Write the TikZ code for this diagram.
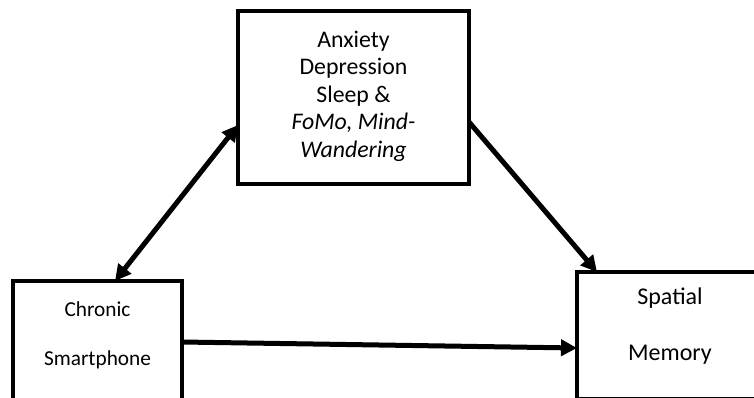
\documentclass[tikz,border=0pt]{standalone}
\usepackage{fontspec}
\setmainfont{Carlito}
\usetikzlibrary{arrows.meta,calc}
\begin{document}
\begin{tikzpicture}[x=1pt,y=-1pt,
  box/.style={draw=black,line width=4pt,fill=white,inner sep=0pt,outer sep=0pt},
  lbl/.style={inner sep=0pt,align=center},
  conn/.style={line width=5pt,-{Triangle[length=16pt,width=16pt]}},
  dconn/.style={line width=5pt,{Triangle[length=16pt,width=16pt]}-{Triangle[length=16pt,width=16pt]}}]
\useasboundingbox (0,0) rectangle (754,397);
\clip (0,0) rectangle (754,397);
\fill[white] (0,0) rectangle (754,397);
% boxes
\node[box,minimum width=231pt,minimum height=173pt] (med) at (353.5,97.5) {};
\node[box,minimum width=169pt,minimum height=160pt] (chr) at (97.5,361) {};
\node[box,minimum width=186pt,minimum height=127pt] (spm) at (670,335.5) {};
% texts
\node[lbl,font=\fontsize{23.8}{27.5}\selectfont] (medt) at (353.5,96) {Anxiety\\Depression\\Sleep \&\\\textit{FoMo, Mind-}\\\textit{Wandering}};
\node[lbl,font=\fontsize{21.3}{24}\selectfont] (chr1) at (97.5,309) {Chronic};
\node[lbl,font=\fontsize{24}{27}\selectfont] (spm1) at (670,298) {Spatial};
\node[lbl,font=\fontsize{21.3}{24}\selectfont] (chr2) at (97.5,360) {Smartphone};
\node[lbl,font=\fontsize{24}{27}\selectfont] (spm2) at (670,355) {Memory};
% connectors
\coordinate (a1) at ($(chr.north west)+(102,0)$);
\coordinate (a2) at ($(med.north west)+(0,114)$);
\draw[dconn] (a1) -- (a2);
\coordinate (b1) at ($(med.north east)+(0,111)$);
\coordinate (b2) at ($(spm.north west)+(20,0)$);
\draw[conn] (b1) -- (b2);
\coordinate (c1) at ($(chr.north east)+(0,61)$);
\coordinate (c2) at ($(spm.north west)+(0,76)$);
\draw[conn] (c1) -- (c2);
\end{tikzpicture}
\end{document}
